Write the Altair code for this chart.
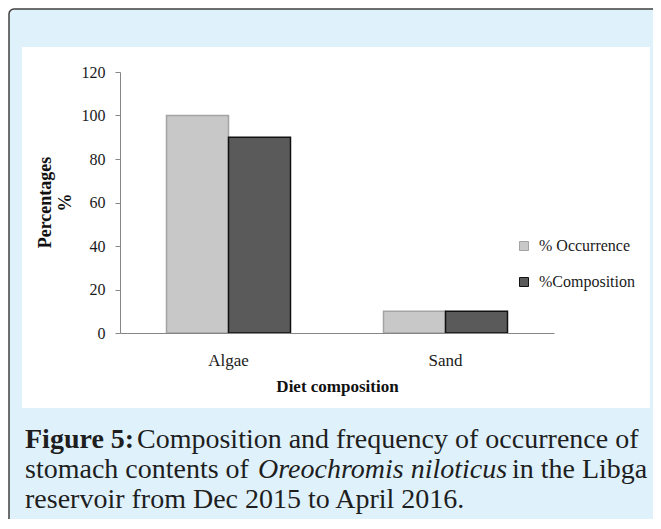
import altair as alt
import pandas as pd

categories = ["Algae", "Sand"]
series = ["% Occurrence", "%Composition"]
occurrence = [100, 10]
composition = [90, 10]

y_ticks = [0, 20, 40, 60, 80, 100, 120]
x_title = "Diet composition"
y_title = ["Percentages", "%"]

cap_l1_bold = "Figure 5:"
cap_l1_rest = "Composition and frequency of occurrence of"
cap_l2_a = "stomach contents of"
cap_l2_it = "Oreochromis niloticus"
cap_l2_b = "in the Libga"
cap_l3 = "reservoir from Dec 2015 to April 2016."

rows = []
for i, c in enumerate(categories):
    rows.append({"Category": c, "Series": series[0], "Value": occurrence[i]})
    rows.append({"Category": c, "Series": series[1], "Value": composition[i]})
df = pd.DataFrame(rows)

one = pd.DataFrame({"k": [0]})

FONT = "Liberation Serif"

# page -> plot coords: plot origin at page (120, 72)
blue = alt.Chart(one).mark_rect(
    fill="#dff1fb", stroke="#404040", strokeWidth=1.5, cornerRadius=5
).encode(
    x=alt.value(-111), x2=alt.value(560), y=alt.value(-63), y2=alt.value(470)
)
white = alt.Chart(one).mark_rect(fill="#ffffff").encode(
    x=alt.value(-98), x2=alt.value(530), y=alt.value(-25), y2=alt.value(336)
)

fill_scale = alt.Scale(domain=series, range=["#c8c8c8", "#5a5a5a"])
stroke_scale = alt.Scale(domain=series, range=["#a3a3a3", "#111111"])
legend = alt.Legend(
    title=None, orient="none", legendX=396, legendY=166,
    symbolType="square", symbolSize=81, symbolStrokeWidth=1,
    labelFont=FONT, labelFontSize=16, labelColor="#1a1a1a",
    labelOffset=7, rowPadding=20, padding=0, zindex=1,
)

bars = alt.Chart(df).mark_bar(strokeWidth=1.5).encode(
    x=alt.X(
        "Category:N", sort=categories,
        scale=alt.Scale(paddingInner=0, paddingOuter=0),
        axis=alt.Axis(
            title=x_title, labelAngle=0, ticks=False, domainColor="#868686",
            labelFont=FONT, labelFontSize=17, labelColor="#1a1a1a",
            labelBaseline="alphabetic", labelPadding=32,
            titleFont=FONT, titleFontSize=17, titleFontWeight="bold",
            titleColor="#111111", titleBaseline="alphabetic", titleY=58,
            zindex=1,
        ),
    ),
    xOffset=alt.XOffset(
        "Series:N", sort=series,
        scale=alt.Scale(paddingInner=0, paddingOuter=0.75),
    ),
    y=alt.Y(
        "Value:Q",
        scale=alt.Scale(domain=[0, 120], nice=False),
        axis=alt.Axis(
            title=y_title, values=y_ticks, grid=False,
            domainColor="#868686", tickColor="#868686", tickSize=5,
            labelFont=FONT, labelFontSize=16, labelColor="#1a1a1a",
            labelPadding=10,
            titleFont=FONT, titleFontSize=18, titleFontWeight="bold",
            titleColor="#111111", titleAngle=270, titleBaseline="middle",
            titleLineHeight=20, titleX=-75, titleY=130,
            zindex=1,
        ),
    ),
    fill=alt.Fill("Series:N", scale=fill_scale, sort=series, legend=legend),
    stroke=alt.Stroke("Series:N", scale=stroke_scale, sort=series, legend=legend),
)

def cap(text, x, y, weight="normal", style="normal"):
    return alt.Chart(one).mark_text(
        text=text, font=FONT, fontSize=28, fontWeight=weight, fontStyle=style,
        align="left", baseline="alphabetic", color="#1e1e1e",
    ).encode(x=alt.value(x), y=alt.value(y))

captions = [
    cap(cap_l1_bold, -95, 376, weight="bold"),
    cap(cap_l1_rest, 17, 376),
    cap(cap_l2_a, -95, 406),
    cap(cap_l2_it, 138, 406, style="italic"),
    cap(cap_l2_b, 392, 406),
    cap(cap_l3, -95, 436),
]

chart = alt.layer(blue, white, bars, *captions).properties(
    width=434, height=261,
    autosize=alt.AutoSizeParams(type="none"),
    padding={"left": 112, "top": 64, "right": 99, "bottom": 186},
).configure_view(stroke="transparent")

chart.save("out.html", embed_options={"renderer": "svg", "actions": False})
